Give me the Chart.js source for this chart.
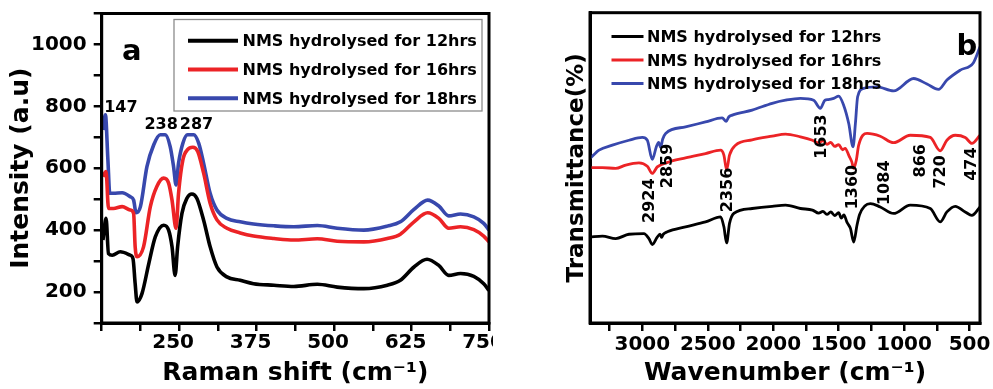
<!DOCTYPE html>
<html>
<head>
<meta charset="utf-8">
<script src="https://cdn.jsdelivr.net/npm/chart.js@4.4.1/dist/chart.umd.min.js"></script>
<style>
html,body{margin:0;padding:0;background:#fff;}
#wrap{position:relative;width:993px;height:389px;overflow:hidden;background:#fff;}
#ca{position:absolute;left:0;top:0;}
#cb{position:absolute;left:493px;top:0;}
</style>
</head>
<body>
<div id="wrap">
<canvas id="ca" width="493" height="389"></canvas>
<canvas id="cb" width="500" height="389"></canvas>
</div>
<script>
// ---------- data ----------
const seriesLabels = ['NMS hydrolysed for 12hrs', 'NMS hydrolysed for 16hrs', 'NMS hydrolysed for 18hrs'];
const seriesColors = ['#000000', '#ec2326', '#3848ad'];

// Panel a: Raman spectra
const ramanX12 = [127, 132, 136, 142, 155, 171, 175.5, 179, 182, 190, 201, 211.5, 225, 233, 238.5, 243.5, 247.5, 254.5, 262.5, 270.5, 278.5, 289.5, 300, 311, 327, 348.5, 370, 403, 435, 473, 505, 548, 586, 607, 629, 650, 669, 685, 704, 725.5, 741.5, 750];
const ramanY12 = [368, 438, 324, 319, 330, 319, 308, 227, 168, 195, 292, 378, 416, 400, 346, 254, 346, 454, 503, 517, 503, 432, 346, 281, 249, 238, 227, 222, 218, 225, 216, 211, 222, 238, 281, 306, 286, 254, 260, 251, 227, 205];
const ramanX16 = [127, 132, 136, 144, 158, 171, 176.5, 179, 182, 192.5, 203.5, 214, 225, 233, 238.5, 245, 249, 256, 263.5, 272, 280, 289.5, 300, 311, 327, 348.5, 370, 403, 435, 473, 505, 548, 586, 607, 629, 651, 669, 685, 704, 725.5, 741.5, 750];
const ramanY16 = [573, 589, 470, 470, 476, 465, 454, 346, 314, 346, 476, 541, 568, 552, 497, 406, 519, 627, 660, 668, 654, 584, 487, 433, 406, 391, 381, 373, 368, 372, 364, 362, 373, 387, 427, 456, 438, 406, 411, 402, 381, 362];
const ramanX18 = [127, 131, 135, 138, 144, 158, 171, 176.5, 180.5, 187.5, 198, 209, 219.5, 227.5, 235.5, 241, 245, 249, 256, 263.5, 273.5, 281.5, 289.5, 300, 311, 327, 348.5, 370, 403, 435, 473, 505, 548, 586, 607, 629, 651, 669, 685, 704, 725.5, 741.5, 750];
const ramanY18 = [724, 773, 627, 519, 519, 521, 508, 497, 456, 476, 605, 676, 708, 708, 670, 605, 546, 616, 681, 708, 708, 681, 616, 519, 465, 438, 427, 420, 414, 411, 415, 406, 400, 413, 427, 467, 497, 478, 446, 452, 443, 422, 400];
const ramanTickLabels = [250, 375, 500, 625, 750];
const intensityTickLabels = [200, 400, 600, 800, 1000];
const ramanPeakText = ['147', '238', '287'];
const ramanPeakX = [156, 221, 278];
const ramanPeakY = [796, 740, 740];

// Panel b: FTIR spectra
const ftirX12 = [3400, 3305, 3204, 3102, 2988, 2950, 2924, 2886, 2865, 2853, 2840, 2809, 2670, 2517, 2402, 2377, 2356, 2334, 2301, 2161, 2008, 1906, 1792, 1700, 1653, 1620, 1590, 1560, 1530, 1500, 1480, 1460, 1436, 1410, 1385, 1360, 1340, 1258, 1182, 1080, 953, 800, 724, 673, 609, 533, 482, 420];
const ftirY12 = [27.7, 28.0, 27.2, 28.6, 28.8, 27.2, 25.3, 27.7, 28.6, 27.6, 28.6, 29.4, 31.0, 32.6, 34.2, 31.0, 25.8, 32.1, 35.3, 36.9, 37.6, 38.0, 36.9, 36.4, 35.4, 36.0, 35.0, 35.8, 34.6, 35.6, 33.8, 34.8, 32.4, 30.5, 26.1, 31.5, 35.0, 38.5, 37.4, 35.3, 38.0, 36.9, 32.6, 35.8, 37.6, 35.8, 34.7, 37.4];
const ftirX16 = [3400, 3305, 3204, 3127, 3026, 2962, 2924, 2886, 2797, 2670, 2517, 2402, 2377, 2356, 2334, 2288, 2161, 2008, 1906, 1792, 1700, 1653, 1620, 1590, 1560, 1530, 1500, 1470, 1450, 1420, 1400, 1385, 1365, 1347, 1283, 1182, 1080, 953, 800, 724, 673, 609, 533, 482, 420];
const ftirY16 = [50.1, 50.1, 49.8, 50.9, 51.6, 50.5, 48.2, 50.3, 51.9, 53.2, 54.6, 55.7, 54.1, 49.3, 54.1, 57.3, 59.0, 60.2, 60.9, 60.0, 58.9, 58.0, 58.8, 57.6, 58.2, 56.9, 57.5, 55.8, 56.3, 53.8, 52.0, 49.8, 52.5, 57.3, 61.1, 60.2, 58.1, 60.5, 59.8, 55.5, 58.9, 60.5, 59.8, 57.9, 60.5];
const ftirX18 = [3400, 3331, 3229, 3102, 3000, 2962, 2924, 2893, 2875, 2860, 2845, 2822, 2670, 2517, 2390, 2359, 2340, 2313, 2161, 2008, 1906, 1792, 1691, 1640, 1605, 1580, 1538, 1500, 1462, 1423, 1390, 1372, 1355, 1309, 1207, 1080, 927, 825, 737, 673, 571, 470, 420];
const ftirY18 = [53.0, 55.7, 57.3, 58.9, 59.8, 58.9, 52.7, 56.8, 58.2, 56.6, 59.2, 61.1, 63.2, 64.8, 66.1, 65.0, 66.4, 67.0, 68.6, 70.8, 71.8, 72.4, 71.8, 69.2, 71.8, 72.0, 72.4, 73.1, 70.2, 64.3, 56.8, 64.3, 72.9, 75.6, 76.1, 74.8, 78.8, 77.0, 75.3, 78.3, 81.5, 83.9, 89.0];
const wavenumberTicks = [500, 750, 1000, 1250, 1500, 1750, 2000, 2250, 2500, 2750, 3000, 3250];
const wavenumberTickLabels = [500, 1000, 1500, 2000, 2500, 3000];
const ftirPeakText = ['2924', '2859', '2356', '1653', '1360', '1084', '866', '720', '474'];
const ftirPeakX = [2944, 2802, 2343, 1630, 1388, 1146, 871, 722, 481];
const ftirPeakY = [39.4, 50.6, 42.9, 60.1, 43.8, 45.2, 52.3, 48.7, 51.2];

// ---------- helpers ----------
const zip = (xs, ys) => xs.map((x, i) => ({x: x, y: ys[i]}));
const FONT = '"DejaVu Sans", Verdana, sans-serif';
Chart.defaults.font.family = FONT;
Chart.defaults.font.weight = 'bold';
Chart.defaults.color = '#000';

const framePlugin = {
  id: 'frame',
  afterDraw(chart, args, o) {
    const {ctx, chartArea: a} = chart;
    ctx.save();
    ctx.lineWidth = o.width || 3;
    ctx.strokeStyle = '#000';
    ctx.strokeRect(a.left, a.top, a.right - a.left, a.bottom - a.top);
    ctx.restore();
  }
};

const legendPlugin = {
  id: 'boxLegend',
  afterDraw(chart, args, o) {
    const ctx = chart.ctx;
    ctx.save();
    if (o.box) {
      ctx.strokeStyle = '#8c8c8c';
      ctx.lineWidth = 1.3;
      ctx.strokeRect(o.box[0], o.box[1], o.box[2], o.box[3]);
    }
    ctx.font = 'bold ' + o.size + 'px ' + FONT;
    ctx.textBaseline = 'middle';
    ctx.textAlign = 'left';
    chart.data.datasets.forEach((ds, i) => {
      const y = o.y + i * o.dy;
      ctx.strokeStyle = ds.borderColor;
      ctx.lineWidth = o.lw;
      ctx.beginPath();
      ctx.moveTo(o.x, y);
      ctx.lineTo(o.x + o.len, y);
      ctx.stroke();
      ctx.fillStyle = '#000';
      ctx.fillText(ds.label, o.x + o.len + o.gap, y + 1.5);
    });
    ctx.restore();
  }
};

const peakPlugin = {
  id: 'peakLabels',
  afterDraw(chart, args, o) {
    const {ctx, chartArea: a} = chart;
    const xs = chart.scales.x, ys = chart.scales.y;
    ctx.save();
    ctx.fillStyle = '#000';
    ctx.font = 'bold ' + o.size + 'px ' + FONT;
    ctx.textAlign = 'center';
    ctx.textBaseline = 'middle';
    o.text.forEach((t, i) => {
      const px = xs.getPixelForValue(o.xs[i]);
      const py = ys.getPixelForValue(o.ys[i]);
      ctx.save();
      ctx.translate(px, py);
      ctx.rotate(o.rot || 0);
      ctx.fillText(t, 0, 0);
      ctx.restore();
    });
    // panel letter
    ctx.font = 'bold ' + o.letterSize + 'px ' + FONT;
    ctx.textBaseline = 'alphabetic';
    const lx = o.letterFromRight ? a.right + o.letterDx : a.left + o.letterDx;
    ctx.fillText(o.letter, lx, a.top + o.letterDy);
    ctx.restore();
  }
};

function axisCommon() {
  return {
    grid: {drawOnChartArea: false, drawTicks: true, tickLength: 8, color: '#000', tickColor: '#000', lineWidth: 2.5, tickWidth: 2.5},
    border: {display: true, color: '#000', width: 3}
  };
}

// ---------- Panel a ----------
new Chart(document.getElementById('ca'), {
  type: 'line',
  data: {
    datasets: [
      {label: seriesLabels[0], data: zip(ramanX12, ramanY12), borderColor: seriesColors[0]},
      {label: seriesLabels[1], data: zip(ramanX16, ramanY16), borderColor: seriesColors[1]},
      {label: seriesLabels[2], data: zip(ramanX18, ramanY18), borderColor: seriesColors[2]}
    ]
  },
  plugins: [framePlugin, legendPlugin, peakPlugin],
  options: {
    responsive: false,
    animation: false,
    layout: {padding: {left: 0, right: 4, top: 13.5, bottom: 0}},
    elements: {point: {radius: 0}, line: {borderWidth: 3.6, cubicInterpolationMode: 'monotone', fill: false}},
    plugins: {
      legend: {display: false},
      tooltip: {enabled: false},
      frame: {width: 3},
      boxLegend: {box: [174, 19.5, 308, 91.5], x: 188, y: 40.7, dy: 28.8, len: 50, gap: 4.5, lw: 4, size: 16},
      peakLabels: {text: ramanPeakText, xs: ramanPeakX, ys: ramanPeakY, size: 16, rot: 0,
                   letter: 'a', letterSize: 29, letterDx: 30, letterDy: 46.5, letterFromRight: false}
    },
    scales: {
      x: Object.assign(axisCommon(), {
        type: 'linear', min: 125, max: 750,
        afterFit(s) { s.height = 66; s.paddingLeft = 0; s.paddingRight = 0; },
        ticks: {stepSize: 62.5, autoSkip: false, maxRotation: 0, padding: 0, labelOffset: -6,
                font: {size: 20, weight: 'bold'}, color: '#000',
                callback: v => ramanTickLabels.includes(v) ? String(v) : ''},
        title: {display: true, text: 'Raman shift (cm\u207B\u00B9)', color: '#000',
                font: {size: 25, weight: 'bold'}, padding: {top: 0, bottom: 1}}
      }),
      y: Object.assign(axisCommon(), {
        type: 'linear', min: 100, max: 1100,
        afterFit(s) { s.width = 101.7; s.paddingTop = 0; s.paddingBottom = 0; },
        ticks: {stepSize: 100, autoSkip: false, padding: 7,
                font: {size: 20, weight: 'bold'}, color: '#000',
                callback: v => intensityTickLabels.includes(v) ? String(v) : ''},
        title: {display: true, text: 'Intensity (a.u)', color: '#000',
                font: {size: 25, weight: 'bold'}, padding: {top: 6, bottom: 6}}
      })
    }
  }
});

// ---------- Panel b ----------
new Chart(document.getElementById('cb'), {
  type: 'line',
  data: {
    datasets: [
      {label: seriesLabels[0], data: zip(ftirX12, ftirY12), borderColor: seriesColors[0]},
      {label: seriesLabels[1], data: zip(ftirX16, ftirY16), borderColor: seriesColors[1]},
      {label: seriesLabels[2], data: zip(ftirX18, ftirY18), borderColor: seriesColors[2]}
    ]
  },
  plugins: [framePlugin, legendPlugin, peakPlugin],
  options: {
    responsive: false,
    animation: false,
    layout: {padding: {left: 0, right: 13, top: 12.7, bottom: 0}},
    elements: {point: {radius: 0}, line: {borderWidth: 2.8, cubicInterpolationMode: 'monotone', fill: false}},
    plugins: {
      legend: {display: false},
      tooltip: {enabled: false},
      frame: {width: 3},
      boxLegend: {box: null, x: 118.5, y: 36.5, dy: 23.5, len: 32, gap: 3.5, lw: 3, size: 16},
      peakLabels: {text: ftirPeakText, xs: ftirPeakX, ys: ftirPeakY, size: 16, rot: -Math.PI / 2,
                   letter: 'b', letterSize: 29, letterDx: -13, letterDy: 42.5, letterFromRight: true}
    },
    scales: {
      x: Object.assign(axisCommon(), {
        type: 'linear', min: 420, max: 3400, reverse: true,
        afterFit(s) { s.height = 66; s.paddingLeft = 0; s.paddingRight = 0; },
        afterBuildTicks(s) { s.ticks = wavenumberTicks.map(v => ({value: v})); },
        ticks: {autoSkip: false, maxRotation: 0, padding: 2,
                font: {size: 20, weight: 'bold'}, color: '#000',
                callback: v => wavenumberTickLabels.includes(v) ? String(v) : ''},
        title: {display: true, text: 'Wavenumber (cm\u207B\u00B9)', color: '#000',
                font: {size: 25, weight: 'bold'}, padding: {top: 0, bottom: 1}}
      }),
      y: {
        type: 'linear', min: 0, max: 100,
        afterFit(s) { s.width = 97; s.paddingTop = 0; s.paddingBottom = 0; },
        ticks: {display: false},
        grid: {display: false, drawOnChartArea: false, drawTicks: false},
        border: {display: true, color: '#000', width: 3},
        title: {display: true, text: 'Transmittance(%)', color: '#000',
                font: {size: 23, weight: 'bold'}, padding: {top: 70, bottom: 0}}
      }
    }
  }
});
</script>
</body>
</html>
